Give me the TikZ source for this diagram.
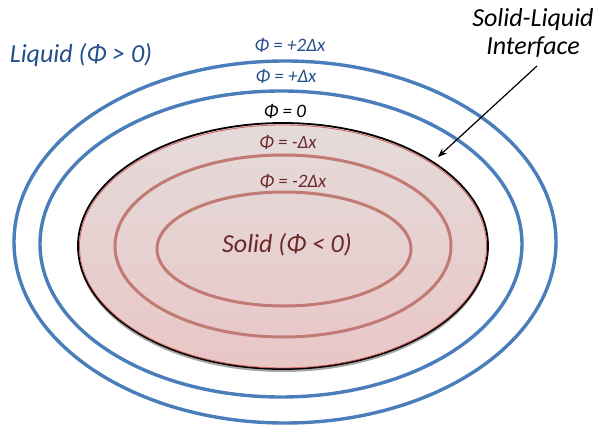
\documentclass[tikz,border=0pt]{standalone}
\usepackage{fontspec}
\setmainfont{Carlito}
\usetikzlibrary{arrows.meta}
\definecolor{ringblue}{HTML}{4A7EBB}
\definecolor{txtblue}{HTML}{24508A}
\definecolor{ringred}{HTML}{C27A74}
\definecolor{txtred}{HTML}{6B2828}
\definecolor{fillTop}{HTML}{E5DBDB}
\definecolor{fillBot}{HTML}{E9C6C6}
\definecolor{edgered}{HTML}{D0605A}
\tikzset{
  bluering/.style={draw=ringblue, line width=3.4pt},
  redring/.style={draw=ringred, line width=3pt},
  biglabel/.style={font=\fontsize{26}{28}\selectfont\itshape, inner sep=0pt},
  philabel/.style={font=\fontsize{19}{21}\selectfont\itshape, inner sep=0pt},
}
\begin{document}
\begin{tikzpicture}[x=1pt,y=-1pt]
\useasboundingbox (0,0) rectangle (598,425);
% liquid level sets
\draw[bluering] (285,242) ellipse [x radius=271, y radius=181];
\draw[bluering] (281,244) ellipse [x radius=241, y radius=153];
% solid region: shadow, fill, edge
\fill[black, opacity=0.35] (283,249) ellipse [x radius=205, y radius=123];
\shade[top color=fillTop, bottom color=fillBot] (283,246) ellipse [x radius=205, y radius=123];
\draw[black, line width=1.8pt] (283,246) ellipse [x radius=205, y radius=123];
\draw[edgered, line width=0.8pt] (283,246.5) ellipse [x radius=203.5, y radius=121.5];
% solid level sets
\draw[redring] (283,246) ellipse [x radius=168, y radius=91];
\draw[redring] (284,249) ellipse [x radius=127, y radius=57];
% labels
\node[biglabel, text=txtblue] (liquid) at (81,55) {Liquid (Φ > 0)};
\node[philabel, text=txtblue] (p2) at (290,45) {Φ = +2Δx};
\node[philabel, text=txtblue] (p1) at (286,76) {Φ = +Δx};
\node[philabel, text=black] (p0) at (285,111) {Φ = 0};
\node[philabel, text=txtred] (m1) at (288,142) {Φ = -Δx};
\node[philabel, text=txtred] (m2) at (293,181) {Φ = -2Δx};
\node[biglabel, text=txtred] (solid) at (287,245) {Solid (Φ < 0)};
\node[biglabel, text=black, align=center] (iface) at (533,33) {Solid-Liquid\\Interface};
% arrow to interface
\coordinate (astart) at (537,66);
\coordinate (atip) at (438,157);
\draw[black, line width=1.2pt, -{Stealth[length=9pt,width=7pt]}] (astart) -- (atip);
\end{tikzpicture}
\end{document}
